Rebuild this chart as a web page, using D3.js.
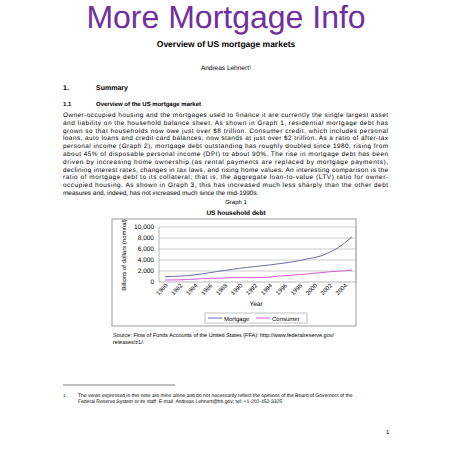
<!DOCTYPE html>
<meta charset="utf-8">
<style>
body { margin: 0; background: white; font-family: "Liberation Sans", Arial, sans-serif; }
svg text { fill: #000; text-rendering: geometricPrecision; }
</style>
<body>
<div id="page"></div>
<script src="https://d3js.org/d3.v7.min.js"></script>
<script>

var years = d3.range(1980, 2006);
var mortgage = [960, 1010, 1070, 1180, 1300, 1480, 1700, 1900, 2100, 2300, 2500, 2650, 2800, 2950, 3100, 3280, 3450, 3650, 3900, 4200, 4450, 4800, 5400, 6100, 7100, 8200];
var consumer = [360, 370, 400, 450, 530, 600, 660, 700, 730, 780, 800, 800, 800, 810, 900, 1050, 1150, 1250, 1350, 1450, 1600, 1720, 1850, 1950, 2050, 2150];
var yTicks = [0, 2000, 4000, 6000, 8000, 10000];
var seriesNames = ["Mortgage", "Consumer"];
var seriesColors = ["#6b6fa8", "#d060d0"];

var paragraph = [
  "Owner-occupied housing and the mortgages used to finance it are currently the single largest asset",
  "and liability on the household balance sheet. As shown in Graph 1, residential mortgage debt has",
  "grown so that households now owe just over $8 trillion. Consumer credit, which includes personal",
  "loans, auto loans and credit card balances, now stands at just over $2 trillion. As a ratio of after-tax",
  "personal income (Graph 2), mortgage debt outstanding has roughly doubled since 1980, rising from",
  "about 45% of disposable personal income (DPI) to about 90%. The rise in mortgage debt has been",
  "driven by increasing home ownership (as rental payments are replaced by mortgage payments),",
  "declining interest rates, changes in tax laws, and rising home values. An interesting comparison is the",
  "ratio of mortgage debt to its collateral; that is, the aggregate loan-to-value (LTV) ratio for owner-",
  "occupied housing. As shown in Graph 3, this has increased much less sharply than the other debt",
  "measures and, indeed, has not increased much since the mid-1990s."
];

var svg = d3.select("#page").append("svg")
    .attr("width", 452).attr("height", 452);

svg.append("text").attr("x", 226).attr("y", 28).attr("text-anchor", "middle")
    .style("font-size", "32px").style("fill", "#7030a0").text("More Mortgage Info");

svg.append("text").attr("x", 226).attr("y", 47).attr("text-anchor", "middle")
    .style("font-size", "8.5px").style("font-weight", "bold").text("Overview of US mortgage markets");

svg.append("text").attr("x", 226).attr("y", 70).attr("text-anchor", "middle")
    .style("font-size", "6.5px").text("Andreas Lehnert¹");

svg.append("text").attr("x", 63).attr("y", 90).style("font-size", "7px").style("font-weight", "bold").text("1.");
svg.append("text").attr("x", 96).attr("y", 90).style("font-size", "7px").style("font-weight", "bold").text("Summary");
svg.append("text").attr("x", 63).attr("y", 106).style("font-size", "6px").style("font-weight", "bold").text("1.1");
svg.append("text").attr("x", 96).attr("y", 106).style("font-size", "6px").style("font-weight", "bold").text("Overview of the US mortgage market");

svg.append("g").selectAll("text").data(paragraph).join("text")
    .attr("x", 63).attr("y", function(d, i) { return 117 + i * 7.8; })
    .attr("textLength", function(d, i) { return i < paragraph.length - 1 ? 325 : null; })
    .attr("lengthAdjust", "spacing")
    .style("font-size", "6.4px").text(function(d) { return d; });

svg.append("text").attr("x", 236).attr("y", 204).attr("text-anchor", "middle")
    .style("font-size", "6px").text("Graph 1");
svg.append("text").attr("x", 236).attr("y", 215).attr("text-anchor", "middle")
    .style("font-size", "6.5px").style("font-weight", "bold").text("US household debt");

// chart frame
svg.append("rect").attr("x", 112).attr("y", 219).attr("width", 244).attr("height", 107)
    .attr("fill", "none").attr("stroke", "#999");

var x = d3.scaleLinear().domain([1980, 2005]).range([165, 352]);
var y = d3.scaleLinear().domain([0, 10000]).range([282, 227]);

var g = svg.append("g");
g.selectAll("line.grid").data(yTicks).join("line")
    .attr("x1", 159).attr("x2", 356)
    .attr("y1", function(d) { return y(d); }).attr("y2", function(d) { return y(d); })
    .attr("stroke", function(d) { return d === 0 ? "#888" : "#aaa"; }).attr("stroke-width", 0.6);
g.append("line").attr("x1", 159).attr("x2", 159).attr("y1", 227).attr("y2", 282).attr("stroke", "#888").attr("stroke-width", 0.6);
g.append("line").attr("x1", 356).attr("x2", 356).attr("y1", 227).attr("y2", 282).attr("stroke", "#aaa").attr("stroke-width", 0.6);

g.selectAll("text.yt").data(yTicks).join("text")
    .attr("x", 154).attr("y", function(d) { return y(d) + 2.2; }).attr("text-anchor", "end")
    .style("font-size", "6.5px").text(d3.format(","));

g.selectAll("text.xt").data(years.filter(function(d) { return d % 2 === 0; })).join("text")
    .attr("transform", function(d) { return "translate(" + (x(d) + 3) + ",286) rotate(-45)"; })
    .attr("text-anchor", "end")
    .style("font-size", "6px").text(function(d) { return d; });

g.append("text").attr("x", 256).attr("y", 306).attr("text-anchor", "middle")
    .style("font-size", "6.5px").text("Year");
g.append("text").attr("transform", "translate(126,255) rotate(-90)").attr("text-anchor", "middle")
    .style("font-size", "6px").text("Billions of dollars (nominal)");

var line = d3.line().x(function(d, i) { return x(years[i]); }).y(function(d) { return y(d); });
[mortgage, consumer].forEach(function(s, k) {
  g.append("path").attr("d", line(s)).attr("fill", "none")
      .attr("stroke", seriesColors[k]).attr("stroke-width", 1);
});

// legend
svg.append("rect").attr("x", 205).attr("y", 313).attr("width", 102).attr("height", 10)
    .attr("fill", "none").attr("stroke", "#999").attr("stroke-width", 0.6);
seriesNames.forEach(function(n, k) {
  var lx = 208 + k * 48;
  svg.append("line").attr("x1", lx).attr("x2", lx + 14).attr("y1", 318).attr("y2", 318)
      .attr("stroke", seriesColors[k]);
  svg.append("text").attr("x", lx + 16).attr("y", 320.5).style("font-size", "6px").text(n);
});

svg.append("text").attr("x", 113).attr("y", 337).style("font-size", "5.5px")
    .text("Source: Flow of Funds Accounts of the United States (FFA): http://www.federalreserve.gov/");
svg.append("text").attr("x", 113).attr("y", 344).style("font-size", "5.5px").text("releases/z1/.");

svg.append("line").attr("x1", 63).attr("x2", 175).attr("y1", 385).attr("y2", 385).attr("stroke", "#000").attr("stroke-width", 0.5);
svg.append("text").attr("x", 63).attr("y", 397).style("font-size", "4.5px").text("1");
svg.append("text").attr("x", 78).attr("y", 397).style("font-size", "5px")
    .text("The views expressed in this note are mine alone and do not necessarily reflect the opinions of the Board of Governors of the");
svg.append("text").attr("x", 78).attr("y", 403).style("font-size", "5px")
    .text("Federal Reserve System or its staff. E-mail: Andreas.Lehnert@frb.gov; tel: +1-202-452-3325");
svg.append("text").attr("x", 386).attr("y", 434).style("font-size", "6px").text("1");

</script>
</body>
